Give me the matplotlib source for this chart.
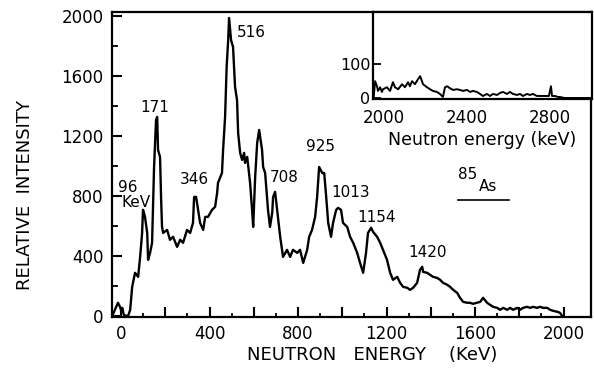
import matplotlib
matplotlib.use('Agg')
import matplotlib.pyplot as plt
from matplotlib.ticker import FuncFormatter

# main delayed-neutron spectrum (keV, relative intensity)
energy = [-40, -14, -5, 2, 5, 12, 21, 32, 41, 50, 63, 77, 86, 95, 99, 108, 118, 122, 131, 140,
          145, 149, 158, 163, 167, 176, 181, 185, 190, 208, 221, 235, 253, 267, 280, 298,
          312, 325, 330, 339, 348, 357, 371, 380, 393, 411, 425, 434, 438, 456, 461, 470,
          477, 484, 488, 497, 506, 515, 524, 529, 538, 547, 556, 560, 570, 583, 592, 597,
          606, 615, 624, 637, 642, 651, 664, 673, 683, 687, 696, 705, 719, 732, 750, 764,
          777, 796, 809, 823, 841, 850, 863, 877, 886, 895, 909, 918, 927, 936, 949, 958,
          972, 981, 994, 1003, 1022, 1035, 1049, 1067, 1080, 1094, 1107, 1116, 1130, 1139,
          1157, 1171, 1184, 1202, 1216, 1229, 1248, 1261, 1275, 1293, 1306, 1320, 1338,
          1351, 1361, 1365, 1383, 1397, 1410, 1428, 1442, 1455, 1474, 1487, 1501, 1519,
          1532, 1546, 1564, 1577, 1591, 1609, 1623, 1636, 1654, 1668, 1681, 1700, 1713,
          1727, 1745, 1758, 1772, 1790, 1803, 1817, 1835, 1849, 1862, 1880, 1894, 1907,
          1926, 1939, 1953, 1971, 1984, 1993]
intensity = [0, 87, 60, 27, 53, 7, 0, 0, 40, 193, 287, 260, 393, 553, 707, 660, 553, 373, 420, 487,
             773, 993, 1307, 1327, 1107, 1060, 773, 593, 553, 573, 507, 527, 460, 507, 487, 573,
             553, 620, 793, 793, 707, 620, 573, 660, 660, 707, 727, 820, 887, 953, 1107, 1327,
             1660, 1840, 1987, 1840, 1793, 1527, 1440, 1220, 1087, 1040, 1087, 1020, 1060, 887, 707, 593,
             927, 1153, 1240, 1107, 993, 953, 707, 593, 687, 793, 827, 707, 527, 393, 440, 393,
             440, 420, 440, 353, 440, 527, 573, 660, 793, 993, 953, 953, 793, 620, 527, 620,
             707, 720, 707, 620, 593, 527, 487, 420, 353, 287, 420, 553, 587, 560,
             527, 487, 440, 373, 287, 240, 260, 220, 193, 187, 173, 187, 220,
             307, 327, 293, 287, 273, 260, 253, 240, 220, 207, 193, 173, 153,
             120, 93, 87, 87, 80, 87, 93, 120, 87, 73, 60, 53, 40,
             53, 40, 53, 40, 53, 40, 53, 60, 53, 60, 53, 60, 53,
             53, 40, 33, 27, 20, 0]

# high-energy tail shown in the inset
tail_energy = [1950, 1957, 1966, 1971, 1981, 1990, 1995, 2014, 2029, 2043, 2053, 2068, 2087, 2101,
               2116, 2125, 2135, 2149, 2164, 2174, 2183, 2188, 2207, 2222, 2236, 2255, 2270,
               2284, 2294, 2304, 2318, 2333, 2352, 2366, 2381, 2400, 2415, 2429, 2448, 2463,
               2477, 2496, 2511, 2525, 2545, 2559, 2574, 2593, 2607, 2622, 2641, 2656, 2670,
               2689, 2704, 2718, 2737, 2752, 2766, 2786, 2795, 2805, 2810, 2824, 2839, 2848,
               2870, 3003]
tail_intensity = [0, 50, 35, 21, 32, 18, 26, 32, 21, 47, 32, 26, 41, 32,
                  47, 35, 50, 41, 56, 65, 50, 41, 32, 26, 21, 18, 12,
                  3, 32, 35, 29, 24, 26, 24, 21, 24, 18, 21, 18, 12,
                  6, 12, 6, 12, 9, 15, 18, 12, 18, 12, 9, 12, 6,
                  12, 9, 12, 6, 6, 6, 6, 6, 35, 6, 6, 3, 3,
                  0, 0]

# peak labels: text, x (keV), y
peak_labels = ['171', '516', '346', '708', '925', '1013', '1154', '1420']
peak_x = [154, 524, 330, 673, 900, 949, 1067, 1297]
peak_y = [1393, 1887, 907, 920, 1127, 820, 653, 420]
peak_ha = ['center', 'left', 'center', 'left', 'center', 'left', 'left', 'left']

fig = plt.figure(figsize=(5.94, 3.68), dpi=100)
ax = fig.add_axes([0.1886, 0.1386, 0.8064, 0.8288])
ax.plot(energy, intensity, color='black', lw=1.7)
ax.set_xlim(-41, 2124)
ax.set_ylim(-8, 2027)

only_400 = FuncFormatter(lambda v, p: '%d' % v if int(v) % 400 == 0 else '')
ax.set_xticks(range(0, 2001, 200))
ax.set_xticks(range(100, 2000, 200), minor=True)
ax.xaxis.set_major_formatter(only_400)
ax.set_yticks(range(0, 2001, 400))
ax.set_yticks(range(200, 2001, 400), minor=True)
ax.tick_params(which='major', direction='in', length=7, width=1.5, labelsize=12, pad=6)
ax.tick_params(axis='x', which='minor', direction='in', length=3, width=1.3)
ax.tick_params(axis='y', which='minor', direction='in', length=4, width=1.3)
for s in ax.spines.values():
    s.set_linewidth(1.6)

for t, x, y, ha in zip(peak_labels, peak_x, peak_y, peak_ha):
    ax.text(x, y, t, fontsize=11, ha=ha, va='center')
ax.text(-14, 853, '96', fontsize=11, ha='left', va='center')
ax.text(0, 753, 'KeV', fontsize=11, ha='left', va='center')

ax.text(1523, 940, '85', fontsize=11, ha='left', va='center')
ax.text(1618, 860, 'As', fontsize=11, ha='left', va='center')
ax.plot([1523, 1754], [773, 773], color='black', lw=1.2)

fig.text(0.626, 0.036, 'NEUTRON   ENERGY    (KeV)', fontsize=13, ha='center', va='center')
fig.text(0.042, 0.47, 'RELATIVE  INTENSITY', fontsize=13, rotation=90, ha='center', va='center')

# inset
axi = fig.add_axes([0.628, 0.731, 0.3687, 0.2364])
axi.plot(tail_energy, tail_intensity, color='black', lw=1.4)
axi.set_xlim(1947, 3003)
axi.set_ylim(-3, 256)
axi.set_xticks([2000, 2400, 2800])
axi.set_yticks([0, 100])
axi.tick_params(axis='y', direction='in', length=6, width=1.3, labelsize=11.5, pad=2)
axi.tick_params(axis='x', length=0, labelsize=12, pad=7)
for s in axi.spines.values():
    s.set_linewidth(1.6)
axi.set_xlabel('Neutron energy (keV)', fontsize=12.5, labelpad=3)

fig.savefig('out.png', dpi=100)
